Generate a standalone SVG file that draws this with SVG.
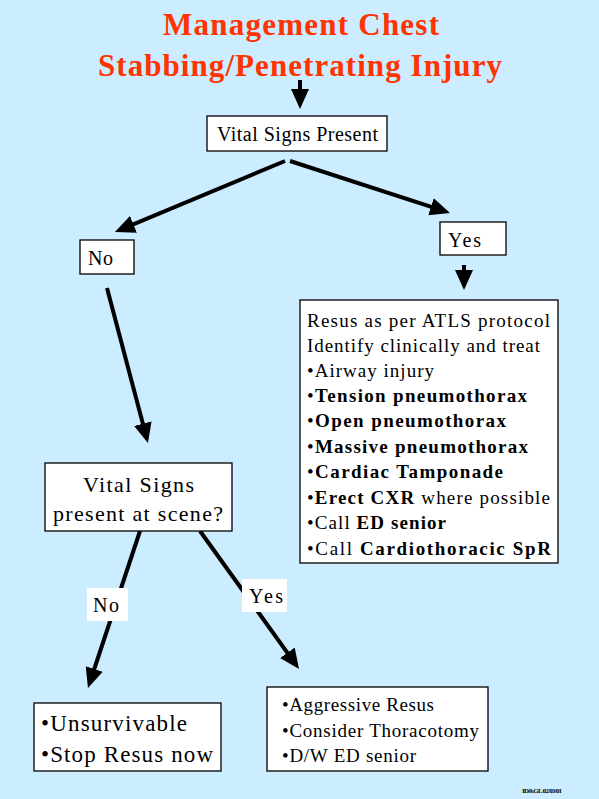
<svg xmlns="http://www.w3.org/2000/svg" width="599" height="799" viewBox="0 0 599 799">
<style>
.box{fill:#fff;stroke:#000;stroke-width:1.3}
.c{stroke:#000;stroke-width:4;fill:none}
</style>
<defs>
<marker id="ah" markerUnits="userSpaceOnUse" markerWidth="20" markerHeight="18" viewBox="0 0 20 18" refX="10" refY="9" orient="auto">
<path d="M0,0 L20,9 L0,18 z" fill="#000"/>
</marker>
</defs>
<rect width="599" height="799" fill="#CCECFF"/>
<g id="title" font-family="Liberation Serif, DejaVu Serif, serif" font-weight="bold" font-size="31" fill="#FF3300">
<text x="163" y="35" textLength="276" lengthAdjust="spacing">Management Chest</text>
<text x="98" y="76" textLength="404" lengthAdjust="spacing">Stabbing/Penetrating Injury</text>
</g>
<g id="connectors">
<line class="c" x1="300" y1="80" x2="300" y2="99" marker-end="url(#ah)"/>
<line class="c" x1="285" y1="161" x2="124.2" y2="228.2" marker-end="url(#ah)"/>
<line class="c" x1="290" y1="161" x2="440.5" y2="209.9" marker-end="url(#ah)"/>
<line class="c" x1="464" y1="265" x2="464" y2="280" marker-end="url(#ah)"/>
<line class="c" x1="107" y1="288" x2="145.4" y2="433.3" marker-end="url(#ah)"/>
<line class="c" x1="140" y1="531" x2="91.1" y2="678.5" marker-end="url(#ah)"/>
<line class="c" x1="200" y1="531" x2="293.2" y2="660.9" marker-end="url(#ah)"/>
</g>
<g font-family="Liberation Serif, DejaVu Serif, serif" fill="#000">
<g id="vital">
<rect class="box" x="207" y="116" width="180" height="35"/>
<text x="217" y="141" font-size="20" textLength="161" lengthAdjust="spacing">Vital Signs Present</text>
</g>
<g id="no1">
<rect class="box" x="80" y="240" width="54" height="34"/>
<text x="88" y="265" font-size="20" textLength="25" lengthAdjust="spacing">No</text>
</g>
<g id="yes1">
<rect class="box" x="440" y="222" width="66" height="33"/>
<text x="448" y="247" font-size="20" textLength="33" lengthAdjust="spacing">Yes</text>
</g>
<g id="resus" font-size="19">
<rect class="box" x="300" y="300" width="258" height="263"/>
<text x="307" y="327" textLength="243" lengthAdjust="spacing">Resus as per ATLS protocol</text>
<text x="307" y="352" textLength="233" lengthAdjust="spacing">Identify clinically and treat</text>
<text x="307" y="377" textLength="127" lengthAdjust="spacing">•Airway injury</text>
<text x="307" y="402" textLength="220" lengthAdjust="spacing">•<tspan font-weight="bold">Tension pneumothorax</tspan></text>
<text x="307" y="427" textLength="199" lengthAdjust="spacing">•<tspan font-weight="bold">Open pneumothorax</tspan></text>
<text x="307" y="453" textLength="221" lengthAdjust="spacing">•<tspan font-weight="bold">Massive pneumothorax</tspan></text>
<text x="307" y="478" textLength="196" lengthAdjust="spacing">•<tspan font-weight="bold">Cardiac Tamponade</tspan></text>
<text x="307" y="504" textLength="243" lengthAdjust="spacing">•<tspan font-weight="bold">Erect CXR</tspan> where possible</text>
<text x="307" y="529" textLength="139" lengthAdjust="spacing">•Call <tspan font-weight="bold">ED senior</tspan></text>
<text x="307" y="555" textLength="244" lengthAdjust="spacing">•Call <tspan font-weight="bold">Cardiothoracic SpR</tspan></text>
</g>
<g id="scene" font-size="22">
<rect class="box" x="45" y="463" width="187" height="68"/>
<text x="83" y="492" textLength="111" lengthAdjust="spacing">Vital Signs</text>
<text x="53" y="521" textLength="170" lengthAdjust="spacing">present at scene?</text>
</g>
<g id="no2">
<rect x="87" y="588" width="41" height="33" fill="#fff"/>
<text x="93" y="612" font-size="20" textLength="26" lengthAdjust="spacing">No</text>
</g>
<g id="yes2">
<rect x="242" y="579" width="45" height="33" fill="#fff"/>
<text x="249" y="603" font-size="20" textLength="34" lengthAdjust="spacing">Yes</text>
</g>
<g id="unsurvivable" font-size="23">
<rect class="box" x="34" y="703" width="187" height="68"/>
<text x="41" y="731" textLength="146" lengthAdjust="spacing">•Unsurvivable</text>
<text x="41" y="762" textLength="172" lengthAdjust="spacing">•Stop Resus now</text>
</g>
<g id="aggressive" font-size="19">
<rect class="box" x="267" y="687" width="221" height="84"/>
<text x="282" y="711" textLength="152" lengthAdjust="spacing">•Aggressive Resus</text>
<text x="282" y="737" textLength="197" lengthAdjust="spacing">•Consider Thoracotomy</text>
<text x="282" y="762" textLength="134" lengthAdjust="spacing">•D/W ED senior</text>
</g>
<g id="footer">
<text x="522" y="793" font-weight="bold" font-size="7" textLength="40" lengthAdjust="spacing">ID&amp;GL 02/03/01</text>
</g>
</g>
</svg>
